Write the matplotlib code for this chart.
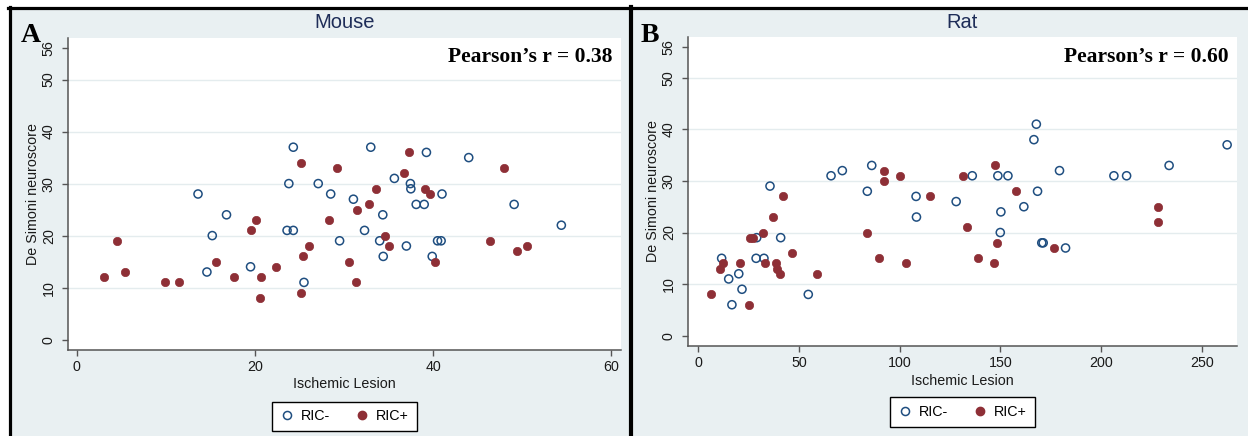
import matplotlib
matplotlib.use('Agg')
import matplotlib.pyplot as plt
from matplotlib.lines import Line2D
from matplotlib.patches import Rectangle

# ---------------- data ----------------
mouse_neg_x = [14.6, 15.2, 16.8, 19.5, 23.6, 24.3, 25.5, 13.6, 24.3, 23.8, 27.1, 33.0, 39.25, 44.0,
               35.65, 37.45, 28.5, 37.5, 41.0, 31.05, 38.1, 39.0, 49.1, 34.35, 54.4, 32.3, 29.5,
               34.0, 40.5, 40.9, 37.0, 34.4, 39.9]
mouse_neg_y = [13, 20, 24, 14, 21, 21, 11, 28, 37, 30, 30, 37, 36, 35,
               31, 30, 28, 29, 28, 27, 26, 26, 26, 24, 22, 21, 19,
               19, 19, 19, 18, 16, 16]
mouse_pos_x = [3.0, 4.5, 5.4, 9.85, 11.5, 15.65, 17.6, 19.5, 20.1, 20.7, 20.6, 22.4, 26.1, 25.4,
               25.2, 25.2, 29.2, 37.3, 48.0, 36.7, 33.6, 39.1, 39.6, 32.85, 31.5, 28.3, 34.6,
               46.4, 35.1, 50.6, 49.4, 30.5, 40.2, 31.3]
mouse_pos_y = [12, 19, 13, 11, 11, 15, 12, 21, 23, 12, 8, 14, 18, 16,
               9, 34, 33, 36, 33, 32, 29, 29, 28, 26, 25, 23, 20,
               19, 18, 18, 17, 15, 15, 11]

rat_neg_x = [11.6, 15.1, 20.1, 21.7, 16.7, 28.7, 32.6, 29.0, 40.9, 54.6, 108.3, 108.1, 35.6, 65.9,
             71.5, 86.1, 83.9, 167.8, 166.6, 262.5, 136.0, 148.7, 153.7, 179.3, 206.3, 212.6,
             233.7, 128.0, 168.4, 150.2, 161.6, 149.9, 170.5, 171.2, 182.3]
rat_neg_y = [15, 11, 12, 9, 6, 15, 15, 19, 19, 8, 23, 27, 29, 31,
             32, 33, 28, 41, 38, 37, 31, 31, 31, 32, 31, 31,
             33, 26, 28, 24, 25, 20, 18, 18, 17]
rat_pos_x = [6.5, 10.6, 12.3, 20.6, 25.3, 25.8, 27.0, 32.1, 37.3, 33.0, 38.6, 38.9, 40.4, 46.7,
             59.0, 42.2, 83.9, 89.9, 103.0, 114.8, 92.3, 92.3, 100.0, 147.5, 131.3, 157.5,
             228.0, 228.4, 133.6, 148.4, 176.7, 138.8, 146.7]
rat_pos_y = [8, 13, 14, 14, 6, 19, 19, 20, 23, 14, 14, 13, 12, 16,
             12, 27, 20, 15, 14, 27, 32, 30, 31, 33, 31, 28,
             25, 22, 21, 18, 17, 15, 14]

titles = ["Mouse", "Rat"]
panel_letters = ["A", "B"]
pearson = ["Pearson\u2019s r = 0.38", "Pearson\u2019s r = 0.60"]
legend_labels = ["RIC-", "RIC+"]
x_label = "Ischemic Lesion"
y_label = "De Simoni neuroscore"
mouse_xticks = [0, 20, 40, 60]
rat_xticks = [0, 50, 100, 150, 200, 250]
yticks = [0, 10, 20, 30, 40, 50, 56]
grid_vals = [10, 20, 30, 40, 50]

# ---------------- style ----------------
W, H = 1248, 436
BG = '#e9f0f2'
GRID = '#e4ecee'
NAVY = '#1f4e80'
MAROON = '#8e2f36'
TITLE_C = '#1e2d58'
AXC = '#555555'
SANS = ['Liberation Sans', 'DejaVu Sans']
SERIF = ['Liberation Serif', 'DejaVu Serif']
plt.rcParams['font.family'] = SANS

fig = plt.figure(figsize=(W / 100, H / 100), dpi=100)
fig.patch.set_facecolor('white')


def fx(px):
    return px / W


def fy(py):
    return 1 - py / H


# panel backgrounds
fig.add_artist(Rectangle((fx(9), 0), fx(629) - fx(9), fy(8), transform=fig.transFigure,
                         facecolor=BG, edgecolor='none', zorder=0))
fig.add_artist(Rectangle((fx(631), 0), fx(1248) - fx(631), fy(8), transform=fig.transFigure,
                         facecolor=BG, edgecolor='none', zorder=0))
# black frame lines
fig.add_artist(Line2D([fx(8), fx(1248)], [fy(8), fy(8)], transform=fig.transFigure,
                      color='black', lw=2.3, zorder=1))
fig.add_artist(Line2D([fx(9.5), fx(9.5)], [fy(7), 0], transform=fig.transFigure,
                      color='black', lw=2.3, zorder=1))
fig.add_artist(Line2D([fx(630.5), fx(630.5)], [fy(7), 0], transform=fig.transFigure,
                      color='black', lw=3.0, zorder=1))

panels = [
    dict(box=(68, 621, 38, 350), xlim=(-1.0, 61.1), ylim=(-2.0, 58.0), xticks=mouse_xticks,
         neg=(mouse_neg_x, mouse_neg_y), pos=(mouse_pos_x, mouse_pos_y),
         letter_x=21, pearson_x=613, ylab_x=33, xlab_y=384, leg_top=401.5),
    dict(box=(688, 1237, 37, 345.7), xlim=(-5.1, 267.4), ylim=(-1.94, 57.9), xticks=rat_xticks,
         neg=(rat_neg_x, rat_neg_y), pos=(rat_pos_x, rat_pos_y),
         letter_x=641, pearson_x=1229, ylab_x=653, xlab_y=381, leg_top=397),
]

for i, p in enumerate(panels):
    x0, x1, yt, yb = p['box']
    ax = fig.add_axes([fx(x0), fy(yb), (x1 - x0) / W, (yb - yt) / H])
    ax.set_facecolor('white')
    ax.set_xlim(*p['xlim'])
    ax.set_ylim(*p['ylim'])
    for s in ['top', 'right']:
        ax.spines[s].set_visible(False)
    for s in ['left', 'bottom']:
        ax.spines[s].set_color(AXC)
        ax.spines[s].set_linewidth(1.1)
    for g in grid_vals:
        ax.axhline(g, color=GRID, lw=1.0, zorder=0)
    ax.set_xticks(p['xticks'])
    ax.set_yticks(yticks)
    ax.tick_params(axis='both', direction='out', length=4.3, width=1.0, color=AXC,
                   labelsize=10.3, labelcolor='#1a1a1a')
    ax.tick_params(axis='x', pad=3)
    ax.tick_params(axis='y', pad=4.5, labelrotation=90)
    for lab in ax.get_yticklabels():
        lab.set_va('center')

    nx, ny = p['neg']
    px_, py_ = p['pos']
    ax.scatter(nx, ny, s=34, facecolors='none', edgecolors=NAVY, linewidths=1.1, zorder=3)
    ax.scatter(px_, py_, s=36, facecolors=MAROON, edgecolors=MAROON, linewidths=0.5, zorder=4)

    cx = (x0 + x1) / 2
    fig.text(fx(cx), fy(23), titles[i], ha='center', va='center', fontsize=14.5,
             color=TITLE_C, family=SANS)
    fig.text(fx(p['letter_x']), fy(42), panel_letters[i], ha='left', va='baseline',
             fontsize=20, fontweight='bold', family=SERIF, color='black')
    fig.text(fx(p['pearson_x']), fy(62), pearson[i], ha='right', va='baseline',
             fontsize=15.5, fontweight='bold', family=SERIF, color='black')
    fig.text(fx(p['ylab_x']), fy((yt + yb) / 2), y_label, rotation=90, ha='center',
             va='center', fontsize=10.3, color='#1a1a1a')
    fig.text(fx(cx), fy(p['xlab_y']), x_label, ha='center', va='center', fontsize=10.3,
             color='#1a1a1a')

    handles = [
        Line2D([], [], linestyle='none', marker='o', markersize=5.8, markerfacecolor='none',
               markeredgecolor=NAVY, markeredgewidth=1.1),
        Line2D([], [], linestyle='none', marker='o', markersize=6.0, markerfacecolor=MAROON,
               markeredgecolor=MAROON),
    ]
    leg = fig.legend(handles, legend_labels, loc='upper center',
                     bbox_to_anchor=(fx(cx), fy(p['leg_top'])), bbox_transform=fig.transFigure,
                     ncol=2, frameon=True, fancybox=False, fontsize=10.3,
                     handlelength=1.0, handletextpad=0.5, columnspacing=1.7,
                     borderpad=0.55, borderaxespad=0)
    fr = leg.get_frame()
    fr.set_edgecolor('black')
    fr.set_linewidth(1.0)
    fr.set_facecolor('white')
    fr.set_alpha(1)

fig.savefig('out.png', dpi=100)
